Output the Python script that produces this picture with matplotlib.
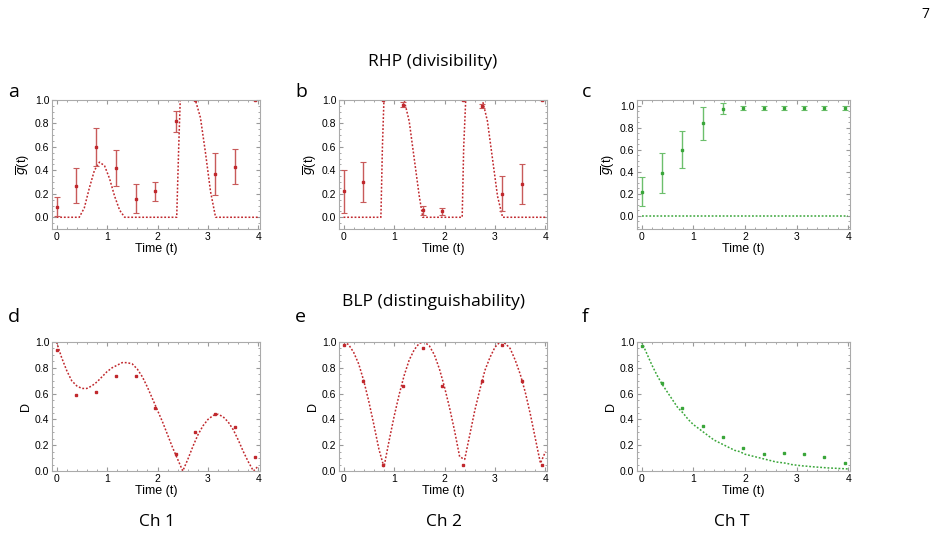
import matplotlib
matplotlib.use("Agg")
import matplotlib.pyplot as plt
from matplotlib.ticker import MultipleLocator

plt.rcParams['font.family'] = ['Liberation Sans', 'DejaVu Sans']

t_data = [0, 0.39, 0.79, 1.18, 1.57, 1.96, 2.36, 2.75, 3.14, 3.53, 3.93]

# RHP data (g bar) with error bars
g_ch1 = [0.09, 0.27, 0.60, 0.42, 0.16, 0.22, 0.82, 1.0, 0.37, 0.43, 1.0]
g_ch1_err = [0.08, 0.15, 0.16, 0.15, 0.12, 0.08, 0.09, 0.0, 0.18, 0.15, 0.0]
g_ch2 = [0.22, 0.30, 1.0, 0.96, 0.06, 0.05, 1.0, 0.95, 0.20, 0.28, 1.0]
g_ch2_err = [0.18, 0.17, 0.0, 0.02, 0.04, 0.03, 0.0, 0.02, 0.15, 0.17, 0.0]
g_cht = [0.22, 0.39, 0.60, 0.84, 0.97, 0.98, 0.98, 0.98, 0.98, 0.98, 0.98]
g_cht_err = [0.13, 0.18, 0.17, 0.15, 0.05, 0.02, 0.02, 0.02, 0.02, 0.02, 0.02]

# BLP data (D)
d_ch1 = [0.94, 0.59, 0.61, 0.74, 0.74, 0.49, 0.13, 0.30, 0.44, 0.34, 0.11]
d_ch2 = [0.98, 0.70, 0.05, 0.66, 0.95, 0.66, 0.05, 0.70, 0.98, 0.70, 0.05]
d_cht = [0.97, 0.68, 0.49, 0.35, 0.26, 0.18, 0.13, 0.14, 0.13, 0.11, 0.06]

# theory curves
tc_g1 = [0, 0.45, 0.55, 0.65, 0.75, 0.85, 0.95, 1.05, 1.15, 1.25, 1.35, 2.38, 2.42, 2.45, 2.75, 2.85, 2.95, 3.05, 3.15, 4.0]
gc_ch1 = [0, 0, 0.08, 0.25, 0.40, 0.47, 0.44, 0.33, 0.18, 0.06, 0, 0, 0.6, 1.0, 1.0, 0.85, 0.55, 0.22, 0, 0]
tc_g2 = [0, 0.74, 0.77, 0.80, 1.2, 1.3, 1.4, 1.5, 1.57, 2.35, 2.38, 2.42, 2.75, 2.85, 2.95, 3.05, 3.15, 4.0]
gc_ch2 = [0, 0, 0.6, 1.0, 1.0, 0.82, 0.50, 0.18, 0, 0, 0.6, 1.0, 1.0, 0.82, 0.50, 0.18, 0, 0]
tc_gt = [0, 4.0]
gc_cht = [0, 0]

tc_d = [0, 0.1, 0.2, 0.3, 0.4, 0.5, 0.6, 0.7, 0.8, 0.9, 1.0, 1.1, 1.2, 1.3, 1.4, 1.5, 1.6, 1.7, 1.8, 1.9,
        2.0, 2.1, 2.2, 2.3, 2.4, 2.5, 2.6, 2.7, 2.8, 2.9, 3.0, 3.1, 3.2, 3.3, 3.4, 3.5, 3.6, 3.7, 3.8, 3.9, 4.0]
dc_ch1 = [1.0, 0.88, 0.78, 0.70, 0.66, 0.64, 0.64, 0.66, 0.69, 0.73, 0.77, 0.80, 0.82, 0.84, 0.84, 0.83, 0.79, 0.73,
          0.65, 0.56, 0.47, 0.38, 0.28, 0.18, 0.09, 0.0, 0.09, 0.19, 0.28, 0.35, 0.40, 0.43, 0.44, 0.42, 0.38, 0.32,
          0.24, 0.15, 0.07, 0.0, 0.04]
dc_ch2 = [1.0, 0.98, 0.92, 0.83, 0.70, 0.54, 0.36, 0.17, 0.03, 0.23, 0.42, 0.59, 0.74, 0.86, 0.94, 0.99, 1.0, 0.97,
          0.90, 0.79, 0.65, 0.49, 0.31, 0.11, 0.09, 0.28, 0.47, 0.63, 0.78, 0.88, 0.96, 1.0, 0.99, 0.95, 0.86, 0.75,
          0.61, 0.44, 0.25, 0.06, 0.15]
dc_cht = [1.0, 0.91, 0.82, 0.74, 0.67, 0.61, 0.55, 0.49, 0.45, 0.40, 0.36, 0.33, 0.30, 0.27, 0.24, 0.22, 0.20, 0.18,
          0.16, 0.15, 0.13, 0.12, 0.11, 0.10, 0.09, 0.08, 0.07, 0.065, 0.06, 0.05, 0.045, 0.04, 0.037, 0.033, 0.03,
          0.027, 0.024, 0.022, 0.02, 0.018, 0.016]

red = '#c0282d'
red_err = '#c85a5a'
green = '#3aa63a'
green_err = '#6cbf6c'

W, H = 946, 544
fig = plt.figure(figsize=(W / 100, H / 100), dpi=100)


def make_ax(x0, x1, y0, y1):
    return fig.add_axes([x0 / W, 1 - y1 / H, (x1 - x0) / W, (y1 - y0) / H])


def style(ax, ylabel, ylim):
    ax.set_xlim(-0.09, 4.03)
    ax.set_ylim(*ylim)
    ax.xaxis.set_minor_locator(MultipleLocator(0.2))
    ax.yaxis.set_minor_locator(MultipleLocator(0.05))
    ax.tick_params(which='both', direction='in', top=True, right=True, labelsize=7.5, color='#999999', pad=2)
    ax.tick_params(which='major', length=3)
    ax.tick_params(which='minor', length=1.5)
    ax.set_xticks([0, 1, 2, 3, 4])
    ax.set_xticklabels(['0', '1', '2', '3', '4'])
    ax.set_yticks([0.0, 0.2, 0.4, 0.6, 0.8, 1.0])
    ax.set_yticklabels(['0.0', '0.2', '0.4', '0.6', '0.8', '1.0'])
    for s in ax.spines.values():
        s.set_color('#aaaaaa')
        s.set_linewidth(0.8)
    ax.set_xlabel('Time (t)', fontsize=9, labelpad=1)
    ax.set_ylabel(ylabel, fontsize=9, labelpad=2)


xs = [(52, 260), (339, 547), (637, 850)]

top_data = [(g_ch1, g_ch1_err, tc_g1, gc_ch1, red, red_err),
            (g_ch2, g_ch2_err, tc_g2, gc_ch2, red, red_err),
            (g_cht, g_cht_err, tc_gt, gc_cht, green, green_err)]
for i, (vals, errs, tc, gc, col, ecol) in enumerate(top_data):
    x0, x1 = xs[i]
    ylim = (-0.1, 1.0) if i < 2 else (-0.12, 1.05)
    ax = make_ax(x0, x1, 100, 229)
    ax.plot(tc, gc, ls=(0, (1.2, 1.2)), color=col, lw=1.1)
    ax.errorbar(t_data, vals, yerr=errs, fmt='s', ms=2, color=col, ecolor=ecol,
                elinewidth=1, capsize=2, capthick=0.8)
    style(ax, r'$\overline{g}$(t)', ylim)

bot_data = [(d_ch1, dc_ch1, red), (d_ch2, dc_ch2, red), (d_cht, dc_cht, green)]
for i, (vals, dc, col) in enumerate(bot_data):
    x0, x1 = xs[i]
    ax = make_ax(x0, x1, 342, 471)
    ax.plot(tc_d, dc, ls=(0, (1.2, 1.2)), color=col, lw=1.1)
    ax.plot(t_data, vals, 's', ms=2, color=col)
    style(ax, 'D', (0, 1.0))

for lbl, x, y in [('a', 8, 97), ('b', 295, 97), ('c', 582, 97), ('d', 8, 322), ('e', 295, 322), ('f', 582, 322)]:
    fig.text(x / W, 1 - y / H, lbl, fontsize=14, family=['Open Sans', 'DejaVu Sans'])

fig.text(433 / W, 1 - 62 / H, 'RHP (divisibility)', fontsize=12.5, ha='center', va='center',
         family=['Open Sans', 'DejaVu Sans'])
fig.text(433 / W, 1 - 302 / H, 'BLP (distinguishability)', fontsize=12.5, ha='center', va='center',
         family=['Open Sans', 'DejaVu Sans'])
for lbl, x in [('Ch 1', 157), ('Ch 2', 444), ('Ch T', 732)]:
    fig.text(x / W, 1 - 522 / H, lbl, fontsize=12.5, ha='center', va='center', family=['Open Sans', 'DejaVu Sans'])
fig.text(925 / W, 1 - 15 / H, '7', fontsize=10, ha='center', va='center', family=['Open Sans', 'DejaVu Sans'])

fig.savefig('out.png', dpi=100)
plt.close(fig)
